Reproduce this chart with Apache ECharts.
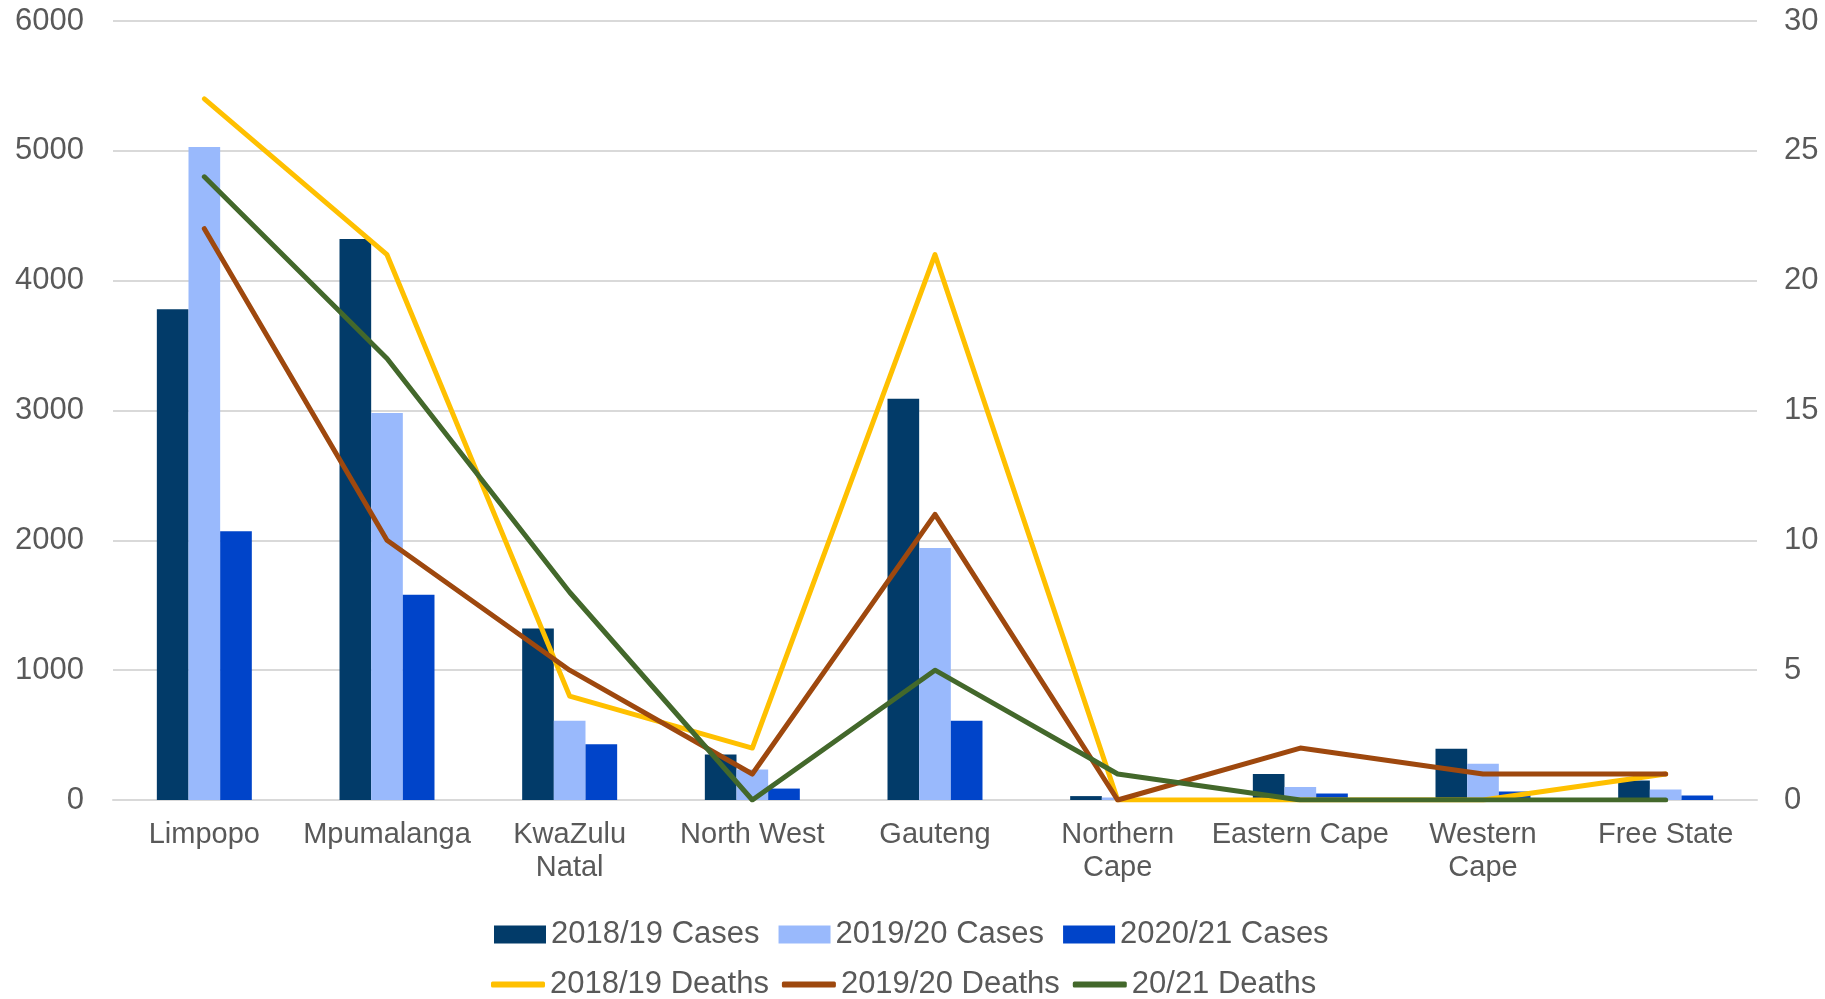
<!DOCTYPE html>
<html>
<head>
<meta charset="utf-8">
<script src="https://cdn.jsdelivr.net/npm/echarts@6/dist/echarts.min.js"></script>
<style>
  html, body { margin: 0; padding: 0; background: #ffffff; }
  #chart { width: 1825px; height: 999px; }
</style>
</head>
<body>
<div id="chart"></div>
<script>
// Provinces along the category axis
const provinces = ['Limpopo', 'Mpumalanga', 'KwaZulu\nNatal', 'North West', 'Gauteng',
                   'Northern\nCape', 'Eastern Cape', 'Western\nCape', 'Free State'];

// Cases per province (left axis)
const cases1819 = [3780, 4320, 1320, 350, 3090, 30, 200, 395, 150];
const cases1920 = [5030, 2980, 610, 235, 1940, 20, 100, 280, 80];
const cases2021 = [2070, 1580, 430, 88, 610, 5, 50, 65, 35];

// Deaths per province (right axis)
const deaths1819 = [27, 21, 4, 2, 21, 0, 0, 0, 1];
const deaths1920 = [22, 10, 5, 1, 11, 0, 2, 1, 1];
const deaths2021 = [24, 17, 8, 0, 5, 1, 0, 0, 0];

// Axis tick settings
const casesTicks = { min: 0, max: 6000, interval: 1000 };
const deathsTicks = { min: 0, max: 30, interval: 5 };

const FONT = 'Liberation Sans, Arial, sans-serif';
const TEXT = '#595959';
const GRID = '#d9d9d9';

const chart = echarts.init(document.getElementById('chart'), null, { renderer: 'canvas' });

function barSeries(name, data, color) {
  return {
    name, type: 'bar', data,
    barGap: '0%', barCategoryGap: '48%',
    itemStyle: { color },
    emphasis: { disabled: true }
  };
}
function lineSeries(name, data, color) {
  return {
    name, type: 'line', data, yAxisIndex: 1,
    symbol: 'none', smooth: false,
    lineStyle: { color, width: 5, cap: 'round', join: 'round' },
    itemStyle: { color },
    emphasis: { disabled: true },
    z: 5
  };
}

chart.setOption({
  animation: false,
  backgroundColor: '#ffffff',
  textStyle: { fontFamily: FONT },
  grid: { left: 113, right: 68, top: 21, bottom: 199, containLabel: false },
  legend: [
    {
      data: ['2018/19 Cases', '2019/20 Cases', '2020/21 Cases'],
      left: 489, top: 914, orient: 'horizontal',
      icon: 'rect', itemWidth: 52, itemHeight: 18, itemGap: 19,
      textStyle: { fontSize: 31, color: TEXT, fontFamily: FONT },
      selectedMode: false
    },
    {
      data: ['2018/19 Deaths', '2019/20 Deaths', '20/21 Deaths'],
      left: 486, top: 964, orient: 'horizontal',
      icon: 'roundRect', itemWidth: 54, itemHeight: 6, itemGap: 13,
      textStyle: { fontSize: 31, color: TEXT, fontFamily: FONT },
      selectedMode: false
    }
  ],
  xAxis: {
    type: 'category', data: provinces,
    axisLine: { show: true, lineStyle: { color: GRID, width: 2 } },
    axisTick: { show: false },
    axisLabel: { color: TEXT, fontSize: 29, lineHeight: 33, margin: 18, interval: 0, fontFamily: FONT }
  },
  yAxis: [
    {
      type: 'value', min: casesTicks.min, max: casesTicks.max, interval: casesTicks.interval,
      axisLine: { show: false }, axisTick: { show: false },
      splitLine: { show: true, lineStyle: { color: GRID, width: 2 } },
      axisLabel: { color: TEXT, fontSize: 31, margin: 29, fontFamily: FONT,
                   formatter: v => String(v) }
    },
    {
      type: 'value', min: deathsTicks.min, max: deathsTicks.max, interval: deathsTicks.interval,
      axisLine: { show: false }, axisTick: { show: false },
      splitLine: { show: false },
      axisLabel: { color: TEXT, fontSize: 31, margin: 27, fontFamily: FONT,
                   formatter: v => String(v) }
    }
  ],
  series: [
    barSeries('2018/19 Cases', cases1819, '#023b69'),
    barSeries('2019/20 Cases', cases1920, '#99b9fc'),
    barSeries('2020/21 Cases', cases2021, '#0044c9'),
    lineSeries('2018/19 Deaths', deaths1819, '#ffc000'),
    lineSeries('2019/20 Deaths', deaths1920, '#9e480e'),
    lineSeries('20/21 Deaths', deaths2021, '#43682b')
  ]
});
</script>
</body>
</html>
